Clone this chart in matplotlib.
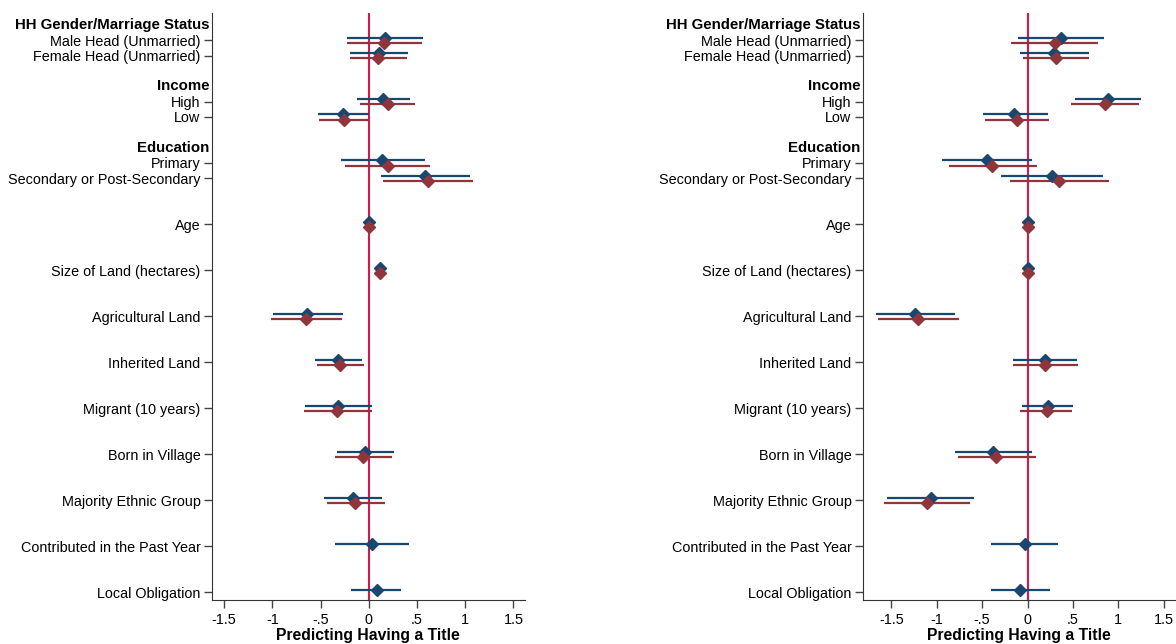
import matplotlib.pyplot as plt
import numpy as np

plt.rcParams['font.family'] = ['Liberation Sans', 'DejaVu Sans']

# row labels, top to bottom; group headers are drawn bold without a tick
labels = ['HH Gender/Marriage Status', 'Male Head (Unmarried)', 'Female Head (Unmarried)',
          'Income', 'High', 'Low',
          'Education', 'Primary', 'Secondary or Post-Secondary',
          'Age', 'Size of Land (hectares)', 'Agricultural Land', 'Inherited Land',
          'Migrant (10 years)', 'Born in Village', 'Majority Ethnic Group',
          'Contributed in the Past Year', 'Local Obligation']
headers = ['HH Gender/Marriage Status', 'Income', 'Education']
ypos = [13.333, 13.0, 12.667, 12.0, 11.667, 11.333, 10.667, 10.333, 10.0,
        9, 8, 7, 6, 5, 4, 3, 2, 1]

coef_rows = [l for l in labels if l not in headers]

# left panel: model 1 (blue) and model 2 (red); nan where not estimated
l_b = [0.173, 0.104, 0.148, -0.266, 0.142, 0.584, 0.0, 0.114, -0.636, -0.318, -0.322, -0.041, -0.166, 0.031, 0.080]
l_b_lo = [-0.225, -0.19, -0.121, -0.522, -0.29, 0.124, -0.01, 0.10, -0.999, -0.557, -0.667, -0.335, -0.467, -0.349, -0.184]
l_b_hi = [0.563, 0.405, 0.428, -0.003, 0.588, 1.045, 0.01, 0.125, -0.263, -0.073, 0.034, 0.263, 0.142, 0.415, 0.339]
l_r = [0.159, 0.097, 0.194, -0.259, 0.194, 0.612, 0.0, 0.114, -0.654, -0.294, -0.325, -0.058, -0.142, np.nan, np.nan]
l_r_lo = [-0.225, -0.2, -0.09, -0.515, -0.245, 0.148, -0.01, 0.10, -1.017, -0.536, -0.671, -0.352, -0.436, np.nan, np.nan]
l_r_hi = [0.55, 0.398, 0.477, 0.0, 0.63, 1.076, 0.01, 0.125, -0.28, -0.049, 0.028, 0.242, 0.163, np.nan, np.nan]

# right panel
r_b = [0.367, 0.294, 0.888, -0.147, -0.451, 0.264, 0.003, 0.0, -1.237, 0.194, 0.223, -0.379, -1.065, -0.029, -0.081]
r_b_lo = [-0.104, -0.081, 0.524, -0.495, -0.944, -0.294, -0.01, -0.01, -1.674, -0.159, -0.063, -0.797, -1.546, -0.397, -0.397]
r_b_hi = [0.844, 0.672, 1.255, 0.223, 0.051, 0.829, 0.01, 0.01, -0.797, 0.546, 0.506, 0.051, -0.584, 0.337, 0.246]
r_r = [0.301, 0.319, 0.848, -0.121, -0.386, 0.349, 0.0, 0.0, -1.204, 0.196, 0.209, -0.342, -1.112, np.nan, np.nan]
r_r_lo = [-0.18, -0.048, 0.477, -0.47, -0.87, -0.192, -0.01, -0.01, -1.648, -0.159, -0.081, -0.764, -1.579, np.nan, np.nan]
r_r_hi = [0.777, 0.679, 1.223, 0.231, 0.106, 0.899, 0.01, 0.01, -0.757, 0.558, 0.494, 0.088, -0.638, np.nan, np.nan]

xticks = [-1.5, -1, -0.5, 0, 0.5, 1, 1.5]
xticklabels = ['-1.5', '-1', '-.5', '0', '.5', '1', '1.5']

BLUE = '#1a476f'
RED = '#90353b'
ZERO = '#d8174a'

fig = plt.figure(figsize=(11.76, 6.44), dpi=100)
ax1 = fig.add_axes([0.18, 0.0683, 0.2664, 0.912])
ax2 = fig.add_axes([0.7336, 0.0683, 0.2664, 0.912])

yrow = [ypos[labels.index(l)] for l in coef_rows]
off = 0.058


def draw(ax, b, blo, bhi, r, rlo, rhi, xlim):
    ax.axvline(0, color=ZERO, lw=1.5, zorder=1)
    yb = np.array(yrow) + off
    yr = np.array(yrow) - off
    ax.hlines(yb, blo, bhi, color=BLUE, lw=1.6, zorder=2)
    ax.plot(b, yb, 'D', color=BLUE, ms=6, zorder=3)
    ax.hlines(yr, rlo, rhi, color=RED, lw=1.6, zorder=2)
    ax.plot(r, yr, 'D', color=RED, ms=6, zorder=3)
    ax.set_xlim(xlim)
    ax.set_ylim(0.834, 13.6)
    ax.set_yticks(yrow)
    ax.set_yticklabels(coef_rows, fontsize=10.4)
    for h in headers:
        ax.text(-0.008, ypos[labels.index(h)], h, transform=ax.get_yaxis_transform(),
                ha='right', va='center', fontsize=10.8, fontweight='bold')
    ax.set_xticks(xticks)
    ax.set_xticklabels(xticklabels, fontsize=10.4)
    ax.tick_params(axis='y', length=6, width=1, color='#444444', pad=2)
    ax.tick_params(axis='x', length=6, width=1, color='#444444', pad=3)
    ax.spines['top'].set_visible(False)
    ax.spines['right'].set_visible(False)
    ax.spines['left'].set_color('#333333')
    ax.spines['bottom'].set_color('#333333')
    ax.set_xlabel('Predicting Having a Title', fontsize=11.3, fontweight='bold', labelpad=1)


draw(ax1, l_b, l_b_lo, l_b_hi, l_r, l_r_lo, l_r_hi, (-1.63, 1.62))
draw(ax2, r_b, r_b_lo, r_b_hi, r_r, r_r_lo, r_r_hi, (-1.815, 1.635))

fig.savefig('out.png', dpi=100)
